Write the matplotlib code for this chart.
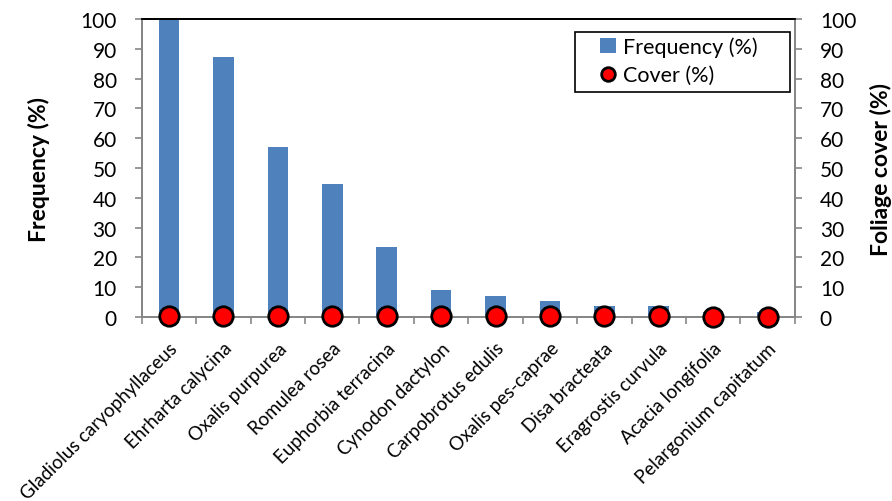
import matplotlib
matplotlib.use("Agg")
import matplotlib.pyplot as plt
from matplotlib.patches import Rectangle
import numpy as np

species = ["Gladiolus caryophyllaceus", "Ehrharta calycina", "Oxalis purpurea",
           "Romulea rosea", "Euphorbia terracina", "Cynodon dactylon",
           "Carpobrotus edulis", "Oxalis pes-caprae", "Disa bracteata",
           "Eragrostis curvula", "Acacia longifolia", "Pelargonium capitatum"]
frequency = [100, 87.3, 57, 44.6, 23.4, 9, 7, 5.4, 3.6, 3.6, 1.8, 1.8]
cover = [0.3, 0.3, 0.3, 0.2, 0.2, 0.3, 0.2, 0.2, 0.2, 0.2, 0.1, 0.1]

plt.rcParams['font.family'] = ['Lato', 'DejaVu Sans']

fig = plt.figure(figsize=(8.92, 5.02), dpi=100)
ax = fig.add_axes([0.159, 0.3665, 0.732, 0.5935])
x = np.arange(len(species))

ax.bar(x, frequency, width=0.38, color="#4f81bd", label="Frequency (%)", zorder=2)
ax2 = ax.twinx()
ax2.plot(x, cover, 'o', ms=14, mfc="red", mec="black", mew=2,
         label="Cover (%)", zorder=3, clip_on=False)

for a in (ax, ax2):
    a.set_ylim(0, 100)
    a.set_yticks(range(0, 101, 10))
    a.tick_params(axis='y', labelsize=15, direction='out', length=5,
                  color='#868686', width=1.2, pad=13)
    for s in ("left", "right", "bottom"):
        a.spines[s].set_color('#868686')
        a.spines[s].set_linewidth(1.3)
    a.spines["top"].set_color('black')
    a.spines["top"].set_linewidth(1.3)
ax.set_xlim(-0.5, len(species) - 0.5)
ax.set_xticks(x)
ax.set_xticklabels(species, rotation=45, ha='right', rotation_mode='anchor', fontsize=13.5)
ax.set_xticks(np.arange(-0.5, len(species), 1), minor=True)
ax.tick_params(axis='x', which='major', length=0, pad=16)
ax.tick_params(axis='x', which='minor', length=5, color='#868686', width=1.2)

ax.set_ylabel("Frequency (%)", fontsize=16.5, fontweight='bold')
ax.yaxis.set_label_coords(-0.141, 0.5)
ax2.set_ylabel("Foliage cover (%)", fontsize=16.5, fontweight='bold')
ax2.yaxis.set_label_coords(1.115, 0.5)

# legend without frame, box drawn separately (wider side padding)
h1, l1 = ax.get_legend_handles_labels()
h2, l2 = ax2.get_legend_handles_labels()
leg = ax2.legend(h1 + h2, l1 + l2, loc='upper left', bbox_to_anchor=(600 / 892, 1 - 37 / 502),
                 bbox_transform=fig.transFigure, fontsize=15.5, frameon=False,
                 handlelength=0.75, handletextpad=0.3, borderpad=0, borderaxespad=0,
                 labelspacing=0.4, markerscale=0.7)
fig.patches.append(Rectangle((575 / 892, 1 - 93 / 502), 215 / 892, 60 / 502,
                             transform=fig.transFigure, fill=False,
                             edgecolor='black', linewidth=1.2, zorder=5))
ax2.set_zorder(ax.get_zorder() + 1)

fig.savefig("out.png", dpi=100)
